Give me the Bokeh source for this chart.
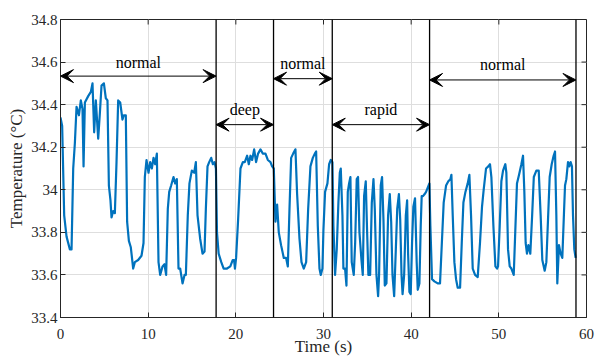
from bokeh.plotting import figure
from bokeh.models import Span, Arrow, VeeHead, FixedTicker, Range1d
from bokeh.embed import file_html
from bokeh.resources import INLINE
from bokeh.core.properties import value

# ---- data ----
t_seg1 = [0, 0.19, 0.42, 0.69, 1.07, 1.26, 1.45, 1.64, 1.83, 2.1, 2.32, 2.51, 2.63, 2.78, 3.16,
          3.46, 3.65, 3.84, 4.03, 4.30, 4.49, 4.68, 4.95, 5.17, 5.36, 5.52, 5.70, 5.82, 6.01, 6.2,
          6.39, 6.58, 6.81, 7.07, 7.22, 7.45, 7.60, 7.80, 8.02, 8.29, 8.48, 8.86, 9.24, 9.47, 9.62,
          9.81, 10.04, 10.23, 10.42, 10.61, 10.80, 10.99]
T_seg1 = [34.34, 34.30, 33.88, 33.78, 33.72, 33.72, 34.10, 34.22, 34.39, 34.35, 34.42, 34.38, 34.11, 34.41, 34.44,
          34.46, 34.50, 34.27, 34.42, 34.24, 34.36, 34.49, 34.50, 34.43, 34.42, 34.02, 33.95, 33.87, 33.90, 33.89,
          34.13, 34.42, 34.41, 34.33, 34.35, 34.35, 33.85, 33.76, 33.73, 33.63, 33.66, 33.67, 33.69, 33.75, 34.06,
          34.14, 34.08, 34.13, 34.10, 34.15, 34.12, 34.17]

t_seg2 = [11.18, 11.37, 11.64, 11.86, 12.05, 12.24, 12.40, 12.62, 12.89, 13.08, 13.27, 13.46, 13.65, 13.92, 14.15,
          14.30, 14.52, 14.71, 14.98, 15.25, 15.44, 15.63, 15.93, 16.20, 16.43, 16.58, 16.77, 16.96, 17.19, 17.38,
          17.57, 17.73, 17.85, 18.04, 18.34, 18.61, 18.99, 19.37, 19.64, 19.80, 19.90, 20.03]
T_seg2 = [33.66, 33.60, 33.64, 33.65, 33.60, 33.91, 33.99, 34.02, 34.06, 34.03, 34.05, 33.63, 33.63, 33.56, 33.60,
          33.60, 33.88, 34.03, 34.09, 34.08, 34.13, 33.88, 33.77, 33.70, 33.71, 33.91, 34.11, 34.13, 34.15, 34.12,
          34.13, 34.10, 33.80, 33.70, 33.66, 33.63, 33.63, 33.64, 33.67, 33.67, 33.63, 33.68]

t_seg3 = [20.26, 20.53, 20.80, 21.02, 21.29, 21.48, 21.67, 21.86, 22.09, 22.31, 22.54, 22.81, 23.07, 23.38, 23.65,
          23.95, 24.14, 24.33, 24.52, 24.71, 24.90, 25.16, 25.47, 25.73, 25.93, 26.12, 26.31, 26.54, 26.80, 26.99,
          27.26, 27.49, 27.75, 28.02, 28.25, 28.51, 28.78, 29.01, 29.16, 29.35, 29.54, 29.69, 29.88, 29.99, 30.18,
          30.45, 30.64, 30.83, 31.02]
T_seg3 = [33.86, 34.10, 34.13, 34.13, 34.16, 34.12, 34.16, 34.14, 34.19, 34.13, 34.17, 34.19, 34.17, 34.17, 34.14,
          34.13, 34.11, 34.10, 33.85, 33.93, 33.80, 33.74, 33.68, 33.68, 33.64, 33.91, 34.15, 34.17, 34.19, 33.98,
          33.77, 33.66, 33.63, 33.66, 33.91, 34.11, 34.15, 34.17, 34.18, 33.83, 33.63, 33.60, 33.63, 33.81, 33.99,
          34.03, 34.12, 34.14, 34.13]

t_seg4 = [31.13, 31.32, 31.51, 31.70, 31.86, 31.97, 32.16, 32.27, 32.46, 32.62, 32.77, 32.92, 33.07, 33.22, 33.45,
          33.61, 33.79, 33.94, 34.10, 34.33, 34.48, 34.63, 34.82, 34.97, 35.12, 35.32, 35.51, 35.70, 35.85, 36.04,
          36.23, 36.34, 36.53, 36.68, 36.84, 36.99, 37.18, 37.37, 37.56, 37.72, 37.87, 38.06, 38.25, 38.41, 38.60,
          38.75, 38.90, 39.02, 39.20, 39.39, 39.54, 39.65, 39.80, 39.95, 40.10, 40.25, 40.44, 40.63, 40.75, 40.94,
          41.09, 41.20, 41.35, 41.54, 41.70, 41.89, 42.08]
T_seg4 = [33.83, 33.60, 33.72, 33.94, 34.08, 34.10, 33.88, 33.63, 33.63, 33.55, 33.99, 34.03, 34.06, 33.66, 33.60,
          33.75, 34.05, 34.06, 33.80, 33.67, 33.60, 33.97, 34.04, 33.81, 33.60, 33.60, 33.94, 34.05, 33.91, 33.60,
          33.50, 33.60, 34.02, 34.06, 33.86, 33.55, 33.56, 33.88, 33.98, 33.85, 33.60, 33.50, 33.72, 33.91, 33.98,
          33.86, 33.60, 33.51, 33.60, 33.88, 33.95, 33.70, 33.52, 33.51, 33.75, 33.92, 33.96, 33.66, 33.53, 33.56,
          33.83, 33.97, 33.97, 33.98, 33.99, 34.01, 34.03]

t_seg5 = [42.19, 42.38, 42.65, 43.03, 43.29, 43.50, 43.71, 43.98, 44.24, 44.47, 44.59, 44.74, 44.93, 45.12, 45.31,
          45.58, 45.77, 45.96, 46.19, 46.45, 46.64, 46.83, 47.02, 47.29, 47.59, 47.85, 48.08, 48.27, 48.54, 48.80,
          48.99, 49.15, 49.38, 49.61, 49.80, 49.91, 50.10, 50.29, 50.48, 50.74, 50.86, 51.05, 51.24, 51.43, 51.70,
          51.88, 52.07, 52.30, 52.57, 52.76, 52.91, 53.06, 53.21, 53.37, 53.59, 53.80, 53.99, 54.28, 54.55, 54.77,
          54.96, 55.23, 55.42, 55.61, 55.80, 56.03, 56.25, 56.41, 56.56, 56.67, 56.86, 57.05, 57.24, 57.43, 57.55,
          57.70, 57.89, 58.04, 58.19, 58.34, 58.46, 58.61, 58.76]
T_seg5 = [33.83, 33.58, 33.57, 33.56, 33.56, 33.75, 33.94, 34.02, 34.04, 34.05, 34.07, 33.88, 33.66, 33.58, 33.54,
          33.54, 33.75, 33.94, 33.99, 34.03, 34.07, 33.88, 33.63, 33.60, 33.59, 33.75, 33.92, 34.00, 34.10, 34.11,
          34.12, 34.06, 33.83, 33.64, 33.63, 33.64, 33.83, 34.04, 34.09, 34.12, 34.08, 33.72, 33.64, 33.63, 33.60,
          33.81, 34.03, 34.07, 34.12, 34.16, 33.99, 33.75, 33.70, 33.74, 33.70, 33.88, 34.06, 34.09, 34.09, 33.88,
          33.67, 33.62, 33.66, 33.86, 34.06, 34.12, 34.16, 34.18, 33.88, 33.56, 33.74, 33.70, 33.68, 33.89, 34.02,
          34.05, 34.13, 34.11, 34.13, 34.11, 33.88, 33.72, 33.68]

boundaries = [17.75, 24.3, 31.0, 42.1, 58.8]
phase_names = ["normal", "deep", "normal", "rapid", "normal"]
phase_start = [0.0, 17.75, 24.3, 31.0, 42.1]
phase_end = [17.75, 24.3, 31.0, 42.1, 58.8]
arrow_y = [34.534, 34.306, 34.522, 34.306, 34.516]
label_y = [34.598, 34.378, 34.593, 34.378, 34.590]

x_lo, x_hi = 0, 60
y_lo, y_hi = 33.4, 34.8
xtick_vals = [0, 10, 20, 30, 40, 50, 60]
ytick_vals = [33.4, 33.6, 33.8, 34.0, 34.2, 34.4, 34.6, 34.8]
ytick_labels = ["33.4", "33.6", "33.8", "34", "34.2", "34.4", "34.6", "34.8"]

t_all, T_all = [], []
for ts, Ts in [(t_seg1, T_seg1), (t_seg2, T_seg2), (t_seg3, T_seg3), (t_seg4, T_seg4), (t_seg5, T_seg5)]:
    assert len(ts) == len(Ts)
    t_all += ts
    T_all += Ts

FONT = "Liberation Serif"
AX = "#262626"

W, H = 595, 358
ML, MR, MT, MB = 60, 9, 19, 41
p = figure(width=W, height=H, output_backend="svg", toolbar_location=None,
           x_range=Range1d(x_lo, x_hi), y_range=Range1d(y_lo, y_hi),
           min_border_left=ML, min_border_right=MR, min_border_top=MT, min_border_bottom=MB)
p.background_fill_color = "white"
p.border_fill_color = "white"
p.outline_line_color = AX
p.outline_line_width = 1

xt = FixedTicker(ticks=xtick_vals)
yt = FixedTicker(ticks=ytick_vals)
ovr = {v: l for v, l in zip(ytick_vals, ytick_labels)}

for ax in p.xaxis:
    ax.ticker = xt
    ax.axis_label = "Time (s)"
for ax in p.yaxis:
    ax.ticker = yt
    ax.major_label_overrides = ovr
    ax.axis_label = "Temperature (°C)"

for ax in list(p.xaxis) + list(p.yaxis):
    ax.major_tick_in = 5
    ax.major_tick_out = 0
    ax.minor_tick_in = 0
    ax.minor_tick_out = 0
    ax.axis_line_color = AX
    ax.major_tick_line_color = AX
    ax.major_label_text_font = FONT
    ax.major_label_text_font_size = "15px"
    ax.major_label_text_color = AX
    ax.axis_label_text_font = FONT
    ax.axis_label_text_font_size = "17px"
    ax.axis_label_text_font_style = "normal"
    ax.axis_label_text_color = AX

p.yaxis.major_label_standoff = 3
p.yaxis.axis_label_standoff = 2
p.xaxis.major_label_standoff = 11
p.xaxis.axis_label_standoff = -5

# inward ticks on the top and right edges of the box
px_x = (x_hi - x_lo) / (W - ML - MR)
px_y = (y_hi - y_lo) / (H - MT - MB)
p.segment(x0=xtick_vals, x1=xtick_vals, y0=[y_hi] * len(xtick_vals), y1=[y_hi - 5 * px_y] * len(xtick_vals),
          line_color=AX, line_width=1)
p.segment(x0=[x_hi] * len(ytick_vals), x1=[x_hi - 5 * px_x] * len(ytick_vals), y0=ytick_vals, y1=ytick_vals,
          line_color=AX, line_width=1)

p.xgrid.ticker = xt
p.ygrid.ticker = yt
p.grid.grid_line_color = "#dedede"
p.grid.grid_line_width = 1

p.line(t_all, T_all, line_color="#0072BD", line_width=2.2, line_join="round")

for b in boundaries:
    p.add_layout(Span(location=b, dimension="height", line_color="black", line_width=1.3))

for xs, xe, ya in zip(phase_start, phase_end, arrow_y):
    p.add_layout(Arrow(x_start=xs, y_start=ya, x_end=xe, y_end=ya, line_color="black", line_width=1,
                       start=VeeHead(size=13, fill_color="black", line_color="black", line_width=1),
                       end=VeeHead(size=13, fill_color="black", line_color="black", line_width=1)))

p.text(x=[(a + b) / 2 for a, b in zip(phase_start, phase_end)], y=label_y, text=phase_names,
       text_font=value(FONT), text_font_size="16px", text_align="center", text_baseline="alphabetic",
       text_color="black")

open("out.html", "w").write(file_html(p, INLINE))
